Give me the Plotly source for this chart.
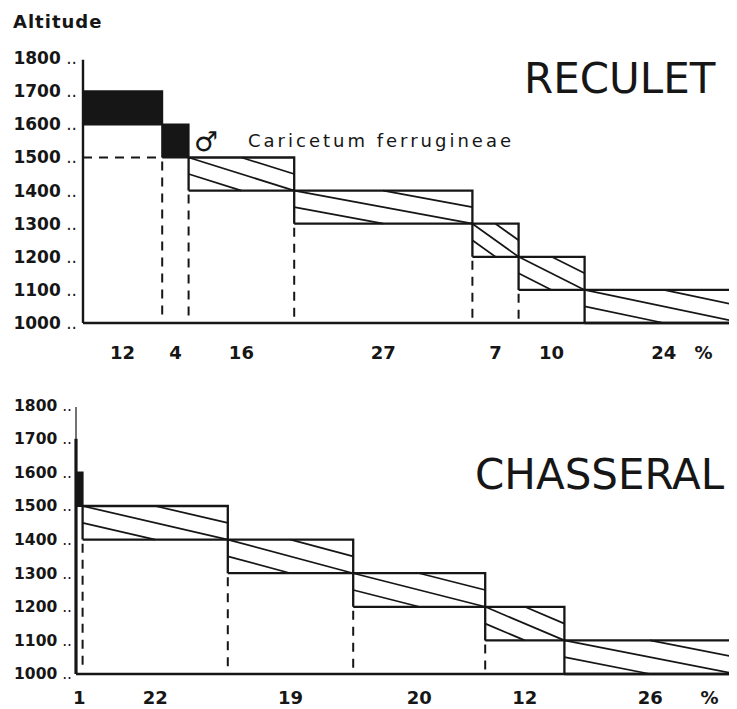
import plotly.graph_objects as go

# ---------------- data ----------------
altitude_ticks = [1000, 1100, 1200, 1300, 1400, 1500, 1600, 1700, 1800]
altitude_labels = ["1000", "1100", "1200", "1300", "1400",
                   "1500", "1600", "1700", "1800"]

# RECULET : share (%) of each altitude belt, belt limits, style
rec_pct = [12, 4, 16, 27, 7, 10, 24]
rec_low = [1600, 1500, 1400, 1300, 1200, 1100, 1000]
rec_high = [1700, 1600, 1500, 1400, 1300, 1200, 1100]
rec_kind = ["black", "black", "hatch", "hatch", "hatch", "hatch", "hatch"]

# CHASSERAL
cha_pct = [1, 22, 19, 20, 12, 26]
cha_low = [1500, 1400, 1300, 1200, 1100, 1000]
cha_high = [1600, 1500, 1400, 1300, 1200, 1100]
cha_kind = ["black", "hatch", "hatch", "hatch", "hatch", "hatch"]

INK = "#161616"
OFF = 8                      # page body margin of the html page
W, H = 737 - OFF, 709 - OFF
FONT = "DejaVu Sans"

fig = go.Figure()


def add_line(xs, ys, ax, width=2.0, dash="solid"):
    fig.add_trace(go.Scatter(x=xs, y=ys, mode="lines", xaxis=ax[0], yaxis=ax[1],
                             line=dict(color=INK, width=width, dash=dash),
                             hoverinfo="skip", showlegend=False))


def draw_panel(pct, low, high, kind, ax, thin_top=None):
    starts = []
    s = 0
    for p in pct:
        starts.append(s)
        s += p
    for i, (x0, p, y0, y1, k) in enumerate(zip(starts, pct, low, high, kind)):
        x1 = x0 + p
        if k == "black":
            fig.add_trace(go.Scatter(x=[x0, x1, x1, x0, x0], y=[y0, y0, y1, y1, y0],
                                     mode="lines", fill="toself", fillcolor=INK,
                                     xaxis=ax[0], yaxis=ax[1],
                                     line=dict(color=INK, width=2),
                                     hoverinfo="skip", showlegend=False))
        else:
            add_line([x0, x1, x1, x0, x0], [y0, y0, y1, y1, y0], ax, 2.3)
            xm = (x0 + x1) / 2
            ym = (y0 + y1) / 2
            add_line([x0, x1], [y1, y0], ax, 1.7)
            add_line([xm, x1], [y1, ym], ax, 1.7)
            add_line([x0, xm], [ym, y0], ax, 1.7)
        if i > 0 and y0 > altitude_ticks[0]:
            add_line([x0, x0], [y0 - 12, altitude_ticks[0] + 10], ax, 2.0, "9px,7px")
    if starts[1] > 3:
        add_line([0, starts[1]], [low[1], low[1]], ax, 1.8, "9px,7px")
    add_line([0, 0], [altitude_ticks[0], altitude_ticks[-1] - 5], ax,
             1.2 if thin_top else 2.4)
    if thin_top:
        add_line([0, 0], [altitude_ticks[0], thin_top], ax, 3.2)
    add_line([0, 100], [altitude_ticks[0], altitude_ticks[0]], ax, 2.4)
    centers = [st + p / 2 for st, p in zip(starts, pct)]
    return centers


rec_centers = draw_panel(rec_pct, rec_low, rec_high, rec_kind, ("x", "y"))
cha_centers = draw_panel(cha_pct, cha_low, cha_high, cha_kind, ("x2", "y2"), thin_top=1700)


# pixel positions below are screen pixels of the 737x709 window
def xdom(axis_px, left_px, scale):
    a, l = axis_px - OFF, left_px - OFF
    return dict(domain=[l / W, 1.0], range=[(l - a) / scale, (W - a) / scale])


def ydom(base_px, top_px, bottom_px, scale):
    b, t, bt = base_px - OFF, top_px - OFF, bottom_px - OFF
    return dict(domain=[1 - bt / H, 1 - t / H],
                range=[1000 - (bt - b) / scale, 1000 + (b - t) / scale])


xtickfont = dict(family=FONT, size=18, color=INK)
xcommon = dict(showgrid=False, zeroline=False, showline=False, ticks="",
               tickfont=xtickfont, fixedrange=True, automargin=False)
ycommon = dict(showgrid=False, zeroline=False, showline=False, ticks="",
               tickvals=altitude_ticks, fixedrange=True, automargin=False)

fig.update_layout(
    width=W, height=H,
    margin=dict(l=0, r=0, t=0, b=0),
    paper_bgcolor="white", plot_bgcolor="white",
    font=dict(family=FONT, color=INK),
    xaxis=dict(**xcommon, **xdom(83, 80, 6.6), anchor="y",
               tickvals=rec_centers + [94],
               ticktext=[f"<b>{p}</b>" for p in rec_pct] + ["<b>%</b>"],
               ticklabelstandoff=12),
    yaxis=dict(**ycommon, **ydom(323, 40, 328, 0.331), anchor="x",
               ticktext=[f"<b>{t}</b> .." for t in altitude_labels],
               tickfont=dict(family=FONT, size=17, color=INK), ticklabelstandoff=2),
    xaxis2=dict(**xcommon, **xdom(76, 74, 6.6), anchor="y2",
                tickvals=cha_centers + [96],
                ticktext=[f"<b>{p}</b>" for p in cha_pct] + ["<b>%</b>"],
                ticklabelstandoff=6),
    yaxis2=dict(**ycommon, **ydom(674, 390, 679, 0.336), anchor="x2",
                ticktext=[f"<b>{t}</b> .." for t in altitude_labels],
                tickfont=dict(family=FONT, size=15.5, color=INK), ticklabelstandoff=1),
)


def ann(text, xpx, ypx, size, anchor="left", bold=False):
    fig.add_annotation(text=f"<b>{text}</b>" if bold else text,
                       x=(xpx - OFF) / W, y=1 - (ypx - OFF) / H,
                       xref="paper", yref="paper",
                       xanchor=anchor, yanchor="middle", showarrow=False,
                       font=dict(family=FONT, size=size, color=INK))


ann('<span style="letter-spacing:1px">Altitude</span>', 11, 21, 18, bold=True)
ann("RECULET", 620, 78, 42, anchor="center")
ann("CHASSERAL", 600, 474, 42, anchor="center")
ann("♂", 206, 141, 27, anchor="center", bold=True)
ann('<span style="letter-spacing:3px">Caricetum ferrugineae</span>', 246, 140, 18)

fig.write_html("out.html")
